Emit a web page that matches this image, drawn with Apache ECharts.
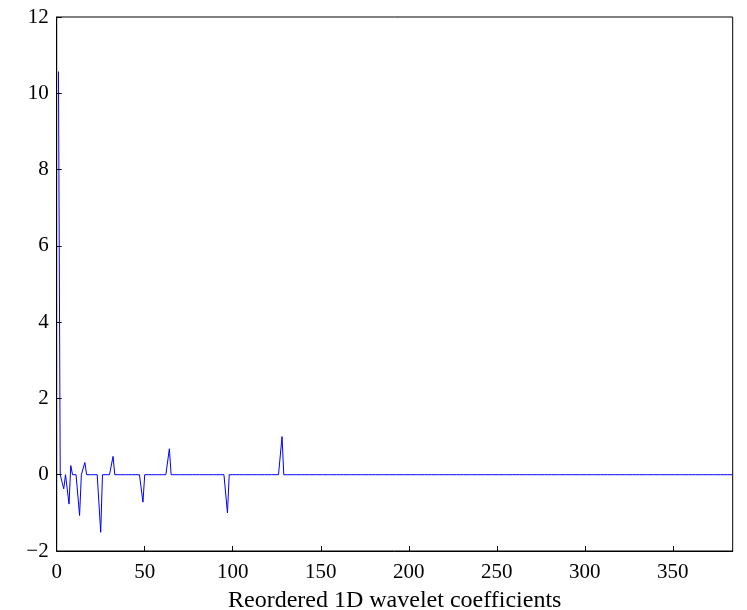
<!DOCTYPE html>
<html>
<head>
<meta charset="utf-8">
<script src="https://cdn.jsdelivr.net/npm/echarts@6/dist/echarts.min.js"></script>
<style>html,body{margin:0;padding:0;background:#fff}#c{width:747px;height:610px}</style>
</head>
<body>
<div id="c"></div>
<script>
// Reordered 1D wavelet coefficients (nonzero entries; all others are 0)
const N = 384;
const spikeIndex = [1, 4, 7, 8, 13, 16, 25, 32, 49, 64, 97, 128];
const spikeValue = [10.57, -0.37, -0.77, 0.24, -1.07, 0.32, -1.51, 0.48, -0.72, 0.68, -1.0, 1.0];
const xTicks = [0, 50, 100, 150, 200, 250, 300, 350];
const yTicks = [-2, 0, 2, 4, 6, 8, 10, 12];
const xLabel = 'Reordered 1D wavelet coefficients';

const data = [];
for (let i = 1; i <= N; i++) {
  const k = spikeIndex.indexOf(i);
  data.push([i, k >= 0 ? spikeValue[k] : 0]);
}

const font = 'Liberation Serif, Times New Roman, serif';
const chart = echarts.init(document.getElementById('c'));
chart.setOption({
  animation: false,
  grid: { left: 56.7, right: 14.3, top: 17, bottom: 59, outerBoundsMode: 'none', containLabel: false,
    show: true, borderColor: '#000', borderWidth: 1, backgroundColor: '#fff' },
  xAxis: {
    type: 'value', min: 0, max: N, interval: 50,
    name: xLabel, nameLocation: 'middle', nameGap: 38,
    nameTextStyle: { fontFamily: font, fontSize: 24, color: '#000' },
    axisLine: { show: true, onZero: false, lineStyle: { color: '#000', width: 1 } },
    axisTick: { show: true, inside: true, length: 5, lineStyle: { color: '#000' } },
    axisLabel: { fontFamily: font, fontSize: 21, color: '#000', margin: 11, showMaxLabel: false,
      formatter: v => xTicks.includes(v) ? String(v) : '' },
    splitLine: { show: false }
  },
  yAxis: {
    type: 'value', min: -2, max: 12, interval: 2,
    axisLine: { show: true, onZero: false, lineStyle: { color: '#000', width: 1 } },
    axisTick: { show: true, inside: true, length: 5, lineStyle: { color: '#000' } },
    axisLabel: { fontFamily: font, fontSize: 21, color: '#000', margin: 8,
      formatter: v => yTicks.includes(v) ? String(v).replace('-', '\u2212') : '' },
    splitLine: { show: false }
  },
  series: [{
    type: 'line', data: data, showSymbol: false, symbol: 'none',
    lineStyle: { color: '#0000ff', width: 1 }, clip: true
  }]
});
</script>
</body>
</html>
